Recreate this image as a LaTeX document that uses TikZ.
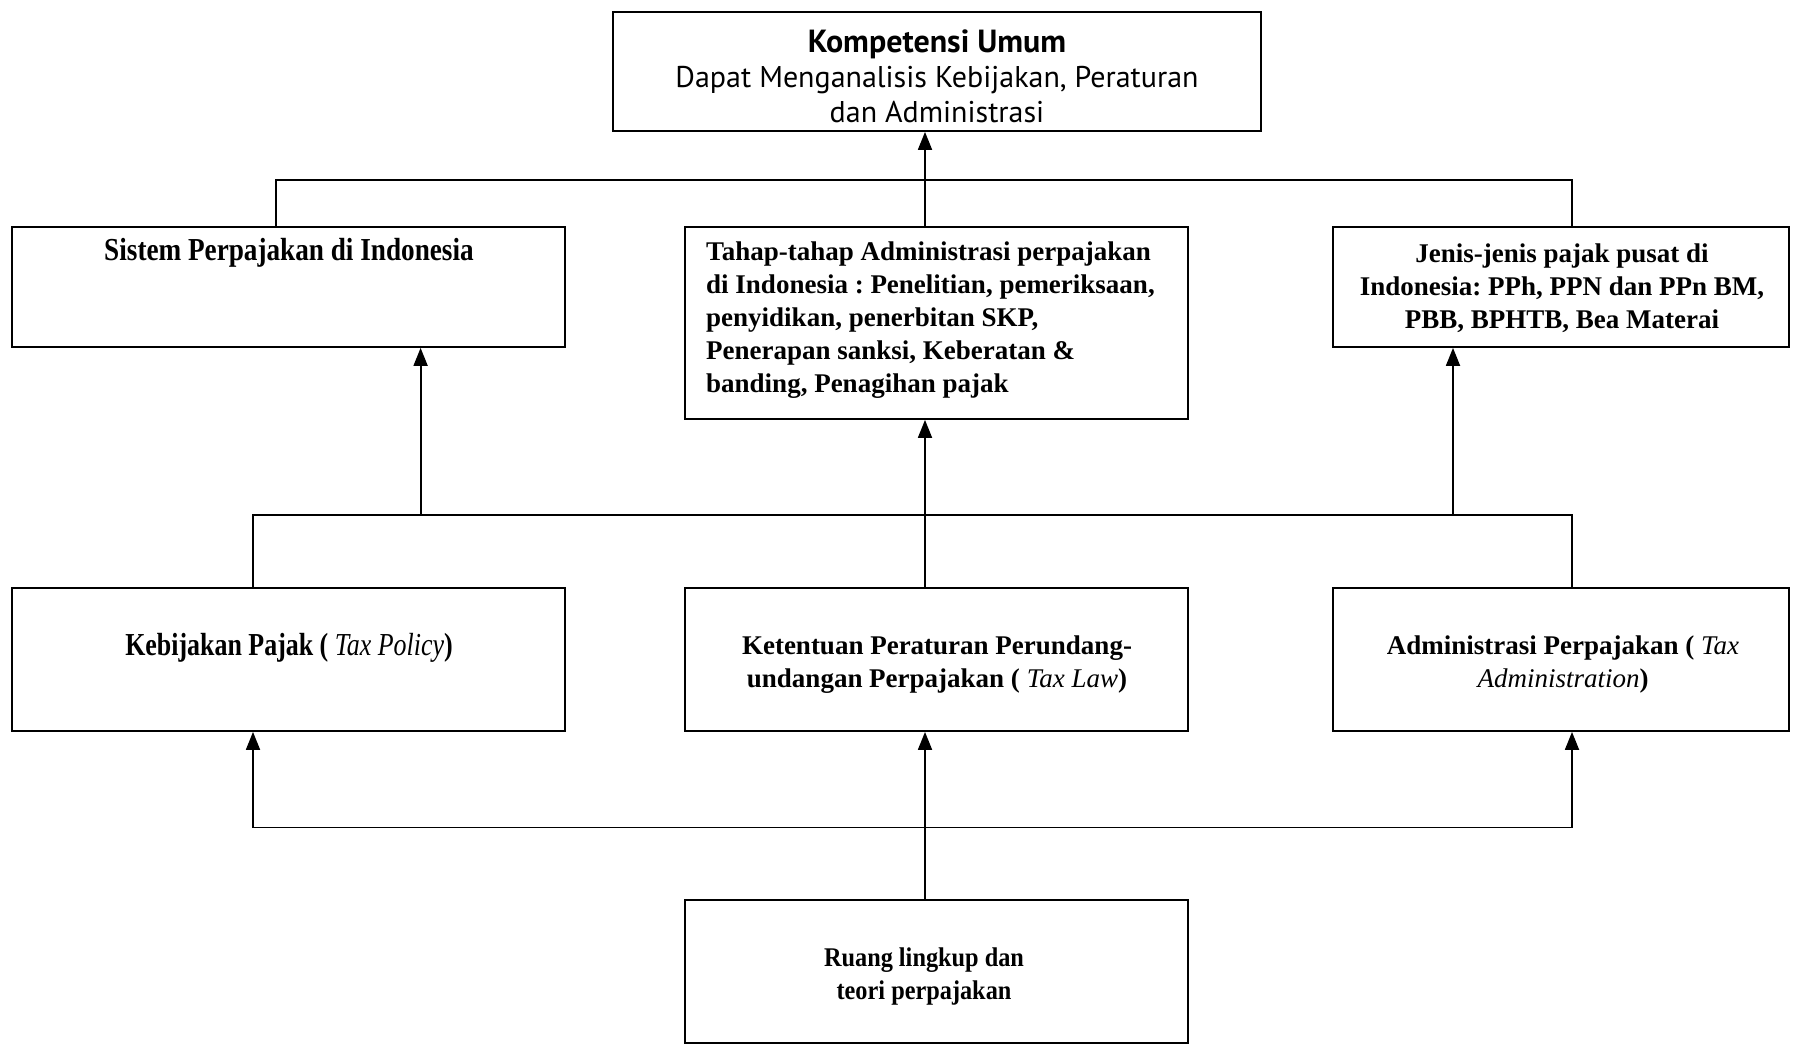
\documentclass[tikz,border=0pt]{standalone}
\usepackage{fontspec}
\setmainfont{Liberation Serif}
\newfontfamily\topsans{PT Sans}
\newfontfamily\condserif[FakeStretch=0.85]{Liberation Serif}
\newfontfamily\condserifb[FakeStretch=0.81]{Liberation Serif}
\newfontfamily\narrowserif[FakeStretch=0.9]{Liberation Serif}
\usetikzlibrary{arrows.meta}
\frenchspacing
\tikzset{
  box/.style={draw, line width=1.8pt, inner sep=0pt, anchor=center},
  txt/.style={font=\fontsize{27}{33}\selectfont\bfseries, align=center, inner sep=0pt},
  ctxt/.style={font=\condserif\fontsize{32}{36}\selectfont\bfseries, align=center, inner sep=0pt},
  stxt/.style={font=\topsans\fontsize{30}{35}\selectfont, align=center, inner sep=0pt},
  conn/.style={line width=1.8pt},
  arr/.style={conn, -{Triangle[length=18pt,width=14pt]}}
}
\begin{document}
\begin{tikzpicture}[x=1pt,y=-1pt]
\useasboundingbox (0,0) rectangle (1797,1049);
% boxes
\node[box, minimum width=648pt, minimum height=119pt] (top) at (937,71.5) {};
\node[box, minimum width=553pt, minimum height=120pt] (sistem) at (288.5,287) {};
\node[box, minimum width=503pt, minimum height=192pt] (tahap) at (936.5,323) {};
\node[box, minimum width=456pt, minimum height=120pt] (jenis) at (1561,287) {};
\node[box, minimum width=553pt, minimum height=143pt] (keb) at (288.5,659.5) {};
\node[box, minimum width=503pt, minimum height=143pt] (ket) at (936.5,659.5) {};
\node[box, minimum width=456pt, minimum height=143pt] (adm) at (1561,659.5) {};
\node[box, minimum width=503pt, minimum height=143pt] (ruang) at (936.5,971.5) {};
% texts
\node[stxt] (topT) at (937,76) {{\fontsize{32}{35}\selectfont\bfseries Kompetensi Umum}\\Dapat Menganalisis Kebijakan, Peraturan\\dan Administrasi};
\node[ctxt] (sistemT) at (289,253) {Sistem Perpajakan di Indonesia};
\node[txt, align=left, anchor=west] (tahapT) at (706,320) {Tahap-tahap Administrasi perpajakan\\di Indonesia : Penelitian, pemeriksaan,\\penyidikan, penerbitan SKP,\\Penerapan sanksi, Keberatan \&\\banding, Penagihan pajak};
\node[txt] (jenisT) at (1562,288) {Jenis-jenis pajak pusat di\\Indonesia: PPh, PPN dan PPn BM,\\PBB, BPHTB, Bea Materai};
\node[ctxt, font=\condserifb\fontsize{32}{36}\selectfont\bfseries] (kebT) at (289,647.5) {Kebijakan Pajak ( \textmd{\textit{Tax Policy}})};
\node[txt] (ketT) at (937,665) {Ketentuan Peraturan Perundang-\\undangan Perpajakan ( \textmd{\textit{Tax Law}})};
\node[txt] (admT) at (1563,665) {Administrasi Perpajakan ( \textmd{\textit{Tax}}\\\textmd{\textit{Administration}})};
\node[txt, font=\narrowserif\fontsize{27}{33}\selectfont\bfseries] (ruangT) at (924,976) {Ruang lingkup dan\\teori perpajakan};
% rails
\coordinate (r1L) at (276,180);
\coordinate (r1R) at (1572,180);
\coordinate (r2L) at (253,514.6);
\coordinate (r2R) at (1572,514.6);
\coordinate (r3L) at (253,827.5);
\coordinate (r3R) at (1572,827.5);
\coordinate (aS) at (420.6,514.6);
\coordinate (aJ) at (1453,514.6);
\coordinate (cM) at (925,0);
% connectors
\draw[conn] (sistem.north -| r1L) -- (r1L) -- (r1R) -- (jenis.north -| r1R);
\draw[arr] (tahap.north -| cM) -- (top.south -| cM);
\draw[conn] (keb.north -| r2L) -- (r2L) -- (r2R) -- (adm.north -| r2R);
\draw[arr] (aS) -- (sistem.south -| aS);
\draw[arr] (aJ) -- (jenis.south -| aJ);
\draw[arr] (ket.north -| cM) -- (tahap.south -| cM);
\draw[conn] (r3L) -- (r3R);
\draw[arr] (r3L) -- (keb.south -| r3L);
\draw[arr] (r3R) -- (adm.south -| r3R);
\draw[arr] (ruang.north -| cM) -- (ket.south -| cM);
\end{tikzpicture}
\end{document}
